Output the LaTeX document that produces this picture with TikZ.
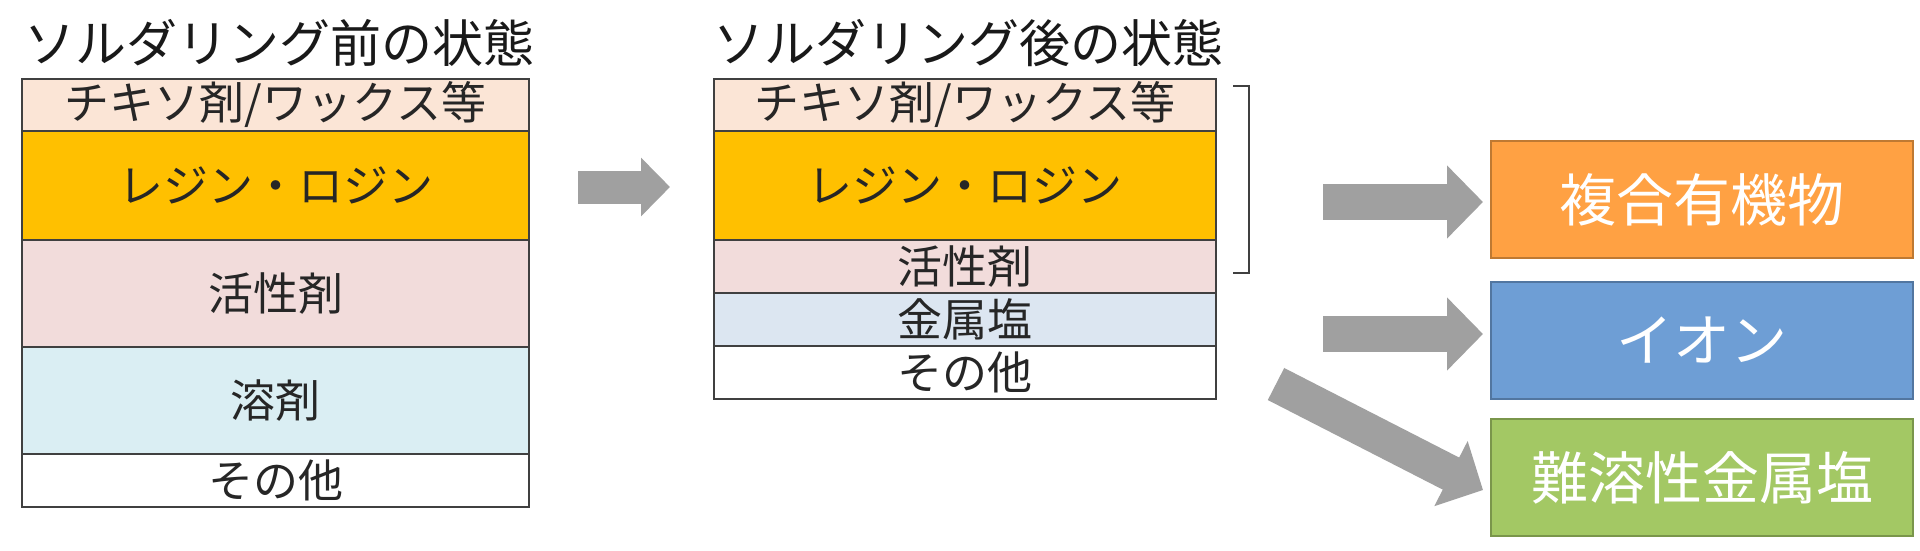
\documentclass[tikz,border=0pt]{standalone}
\usepackage{fontspec}
\setmainfont{Noto Sans CJK JP}
\usetikzlibrary{arrows.meta}
\definecolor{thixo}{HTML}{FBE5D6}
\definecolor{resin}{HTML}{FFC000}
\definecolor{activ}{HTML}{F2DCDB}
\definecolor{solv}{HTML}{DAEEF3}
\definecolor{msalt}{HTML}{DCE6F1}
\definecolor{edge}{HTML}{404040}
\definecolor{orgbox}{HTML}{FFA143}
\definecolor{blubox}{HTML}{6E9ED5}
\definecolor{grnbox}{HTML}{A3C864}
\definecolor{arrowgray}{HTML}{A0A0A0}
\begin{document}
\begin{tikzpicture}[x=1pt,y=-1pt,
  layer/.style={draw=edge, line width=2.5pt, inner sep=0pt, outer sep=0pt,
    anchor=north west, text=black!85, font=\fontsize{45}{50}\selectfont},
  title/.style={anchor=west, inner sep=0pt, font=\fontsize{51}{56}\selectfont, text=black!90},
  result/.style={line width=2pt, minimum width=422pt, minimum height=117pt,
    inner sep=0pt, outer sep=0pt, anchor=north west, text=white,
    font=\fontsize{57}{62}\selectfont},
  blockarrow/.style={draw=arrowgray, line width=36pt, -{Triangle[length=36pt,width=71pt]}},
  smallarrow/.style={draw=arrowgray, line width=33pt, -{Triangle[length=29pt,width=57pt]}}
]
\useasboundingbox (0,0) rectangle (1920,551);
\fill[white] (0,0) rectangle (1920,551);

% titles
\node[title] (t1) at (24,43) {ソルダリング前の状態};
\node[title] (t2) at (713,43) {ソルダリング後の状態};

% left stack
\node[layer, fill=thixo, minimum width=507pt, minimum height=52pt] (l1) at (22,79) {チキソ剤/ワックス等};
\node[layer, fill=resin, minimum width=507pt, minimum height=109pt] (l2) at (22,131) {レジン・ロジン};
\node[layer, fill=activ, minimum width=507pt, minimum height=107pt] (l3) at (22,240) {活性剤};
\node[layer, fill=solv, minimum width=507pt, minimum height=107pt] (l4) at (22,347) {溶剤};
\node[layer, fill=white, minimum width=507pt, minimum height=53pt] (l5) at (22,454) {その他};

% middle stack
\node[layer, fill=thixo, minimum width=502pt, minimum height=52pt] (m1) at (714,79) {チキソ剤/ワックス等};
\node[layer, fill=resin, minimum width=502pt, minimum height=109pt] (m2) at (714,131) {レジン・ロジン};
\node[layer, fill=activ, minimum width=502pt, minimum height=53pt] (m3) at (714,240) {活性剤};
\node[layer, fill=msalt, minimum width=502pt, minimum height=53pt] (m4) at (714,293) {金属塩};
\node[layer, fill=white, minimum width=502pt, minimum height=53pt] (m5) at (714,346) {その他};

% bracket
\draw[edge, line width=2.5pt] (1233,86) -- (1249,86) -- (1249,273) -- (1233,273);

% result boxes
\node[result, fill=orgbox, draw=orgbox!75!black] (r1) at (1491,141) {複合有機物};
\node[result, fill=blubox, draw=blubox!75!black] (r2) at (1491,282) {イオン};
\node[result, fill=grnbox, draw=grnbox!75!black] (r3) at (1491,419) {難溶性金属塩};

% arrows
\coordinate (a0s) at (578,187);
\coordinate (a0e) at (670,187);
\draw[smallarrow] (a0s) -- (a0e);

\coordinate (a1s) at (1323,202);
\coordinate (a1e) at ([xshift=-8pt]r1.west |- a1s);
\draw[blockarrow] (a1s) -- (a1e);

\coordinate (a2s) at (1323,334);
\coordinate (a2e) at ([xshift=-8pt]r2.west |- a2s);
\draw[blockarrow] (a2s) -- (a2e);

\coordinate (a3s) at (1276,384);
\coordinate (a3e) at (1483,490);
\draw[blockarrow] (a3s) -- (a3e);
\end{tikzpicture}
\end{document}
